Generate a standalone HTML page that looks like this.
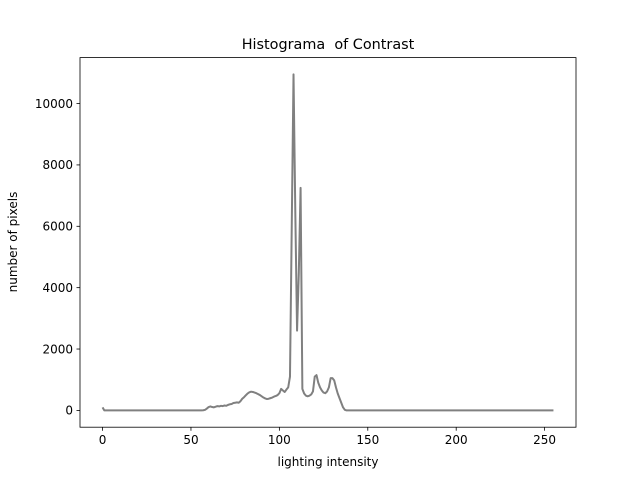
<!DOCTYPE html>
<html><head><meta charset="utf-8"><style>
body{margin:0;background:#fff;}
svg text{font-family:"DejaVu Sans","Liberation Sans",sans-serif;fill:#000;white-space:pre;}
</style></head><body>
<svg id="chart" width="640" height="480" viewBox="0 0 640 480">
<rect width="640" height="480" fill="#fff"/>
<g id="ticks"></g>
<path id="line" fill="none" stroke="#808080" stroke-width="2" stroke-linejoin="round"/>
<rect x="80" y="57.6" width="496" height="369.6" fill="none" stroke="#000" stroke-width="0.8"/>
<text x="328" y="49" font-size="14.4" text-anchor="middle">Histograma  of Contrast</text>
<text x="328" y="466" font-size="12" text-anchor="middle">lighting intensity</text>
<text x="17" y="242" font-size="12" text-anchor="middle" transform="rotate(-90 17 242)">number of pixels</text>
</svg>
<script>
const xTicks=[0,50,100,150,200,250];
const yTicks=[0,2000,4000,6000,8000,10000];
const counts=[100,
0,0,0,0,0,0,0,0,0,0,0,0,0,0,0,0,0,0,0,0,0,0,0,0,0,0,0,0,
0,0,0,0,0,0,0,0,0,0,0,0,0,0,0,0,0,0,0,0,0,0,0,0,0,0,0,0,
5,20,60,110,130,110,100,120,140,130,150,140,160,150,180,200,210,240,250,260,250,300,380,430,490,550,590,610,600,580,560,530,500,460,420,390,370,380,400,420,450,470,500,560,700,650,600,680,750,1100,6000,10950,6500,2600,4500,7250,700,550,480,460,480,520,620,1100,1150,900,750,650,580,560,620,750,1050,1050,980,750,550,400,250,100,20,
0,0,0,0,0,0,0,0,0,0,0,0,0,0,0,0,0,0,0,0,0,0,0,0,0,0,0,0,0,0,
0,0,0,0,0,0,0,0,0,0,0,0,0,0,0,0,0,0,0,0,0,0,0,0,0,0,0,0,0,0,
0,0,0,0,0,0,0,0,0,0,0,0,0,0,0,0,0,0,0,0,0,0,0,0,0,0,0,0,0,0,
0,0,0,0,0,0,0,0,0,0,0,0,0,0,0,0,0,0,0,0,0,0,0,0,0,0,0,0];
const L=80,R=576,T=57.6,B=427.2;
const n=counts.length;
const xmin=-0.05*(n-1), xmax=(n-1)*1.05;
let ymaxD=Math.max(...counts), yminD=Math.min(...counts);
const ymin=yminD-0.05*(ymaxD-yminD), ymax=ymaxD+0.05*(ymaxD-yminD);
const sx=v=>L+(v-xmin)/(xmax-xmin)*(R-L);
const sy=v=>B-(v-ymin)/(ymax-ymin)*(B-T);
const NS="http://www.w3.org/2000/svg";
const g=document.getElementById('ticks');
xTicks.forEach(t=>{
 const x=sx(t);
 const l=document.createElementNS(NS,'line');
 l.setAttribute('x1',x);l.setAttribute('x2',x);l.setAttribute('y1',B);l.setAttribute('y2',B+3.5);
 l.setAttribute('stroke','#000');l.setAttribute('stroke-width','0.8');
 
 
 g.appendChild(l);
 const tx=document.createElementNS(NS,'text');
 tx.setAttribute('x',x);tx.setAttribute('y',B+17);tx.setAttribute('font-size','12');tx.setAttribute('text-anchor','middle');
 tx.textContent=t;
 
 
 g.appendChild(tx);
});
yTicks.forEach(t=>{
 const y=sy(t);
 const l=document.createElementNS(NS,'line');
 l.setAttribute('x1',L-3.5);l.setAttribute('x2',L);l.setAttribute('y1',y);l.setAttribute('y2',y);
 l.setAttribute('stroke','#000');l.setAttribute('stroke-width','0.8');
 
 
 g.appendChild(l);
 const tx=document.createElementNS(NS,'text');
 tx.setAttribute('x',L-7);tx.setAttribute('y',y+4.3);tx.setAttribute('font-size','12');tx.setAttribute('text-anchor','end');
 tx.textContent=t;
 
 
 g.appendChild(tx);
});
document.getElementById('line').setAttribute('d',counts.map((v,i)=>(i?'L':'M')+sx(i).toFixed(2)+' '+sy(v).toFixed(2)).join(' '));
</script>
</body></html>
